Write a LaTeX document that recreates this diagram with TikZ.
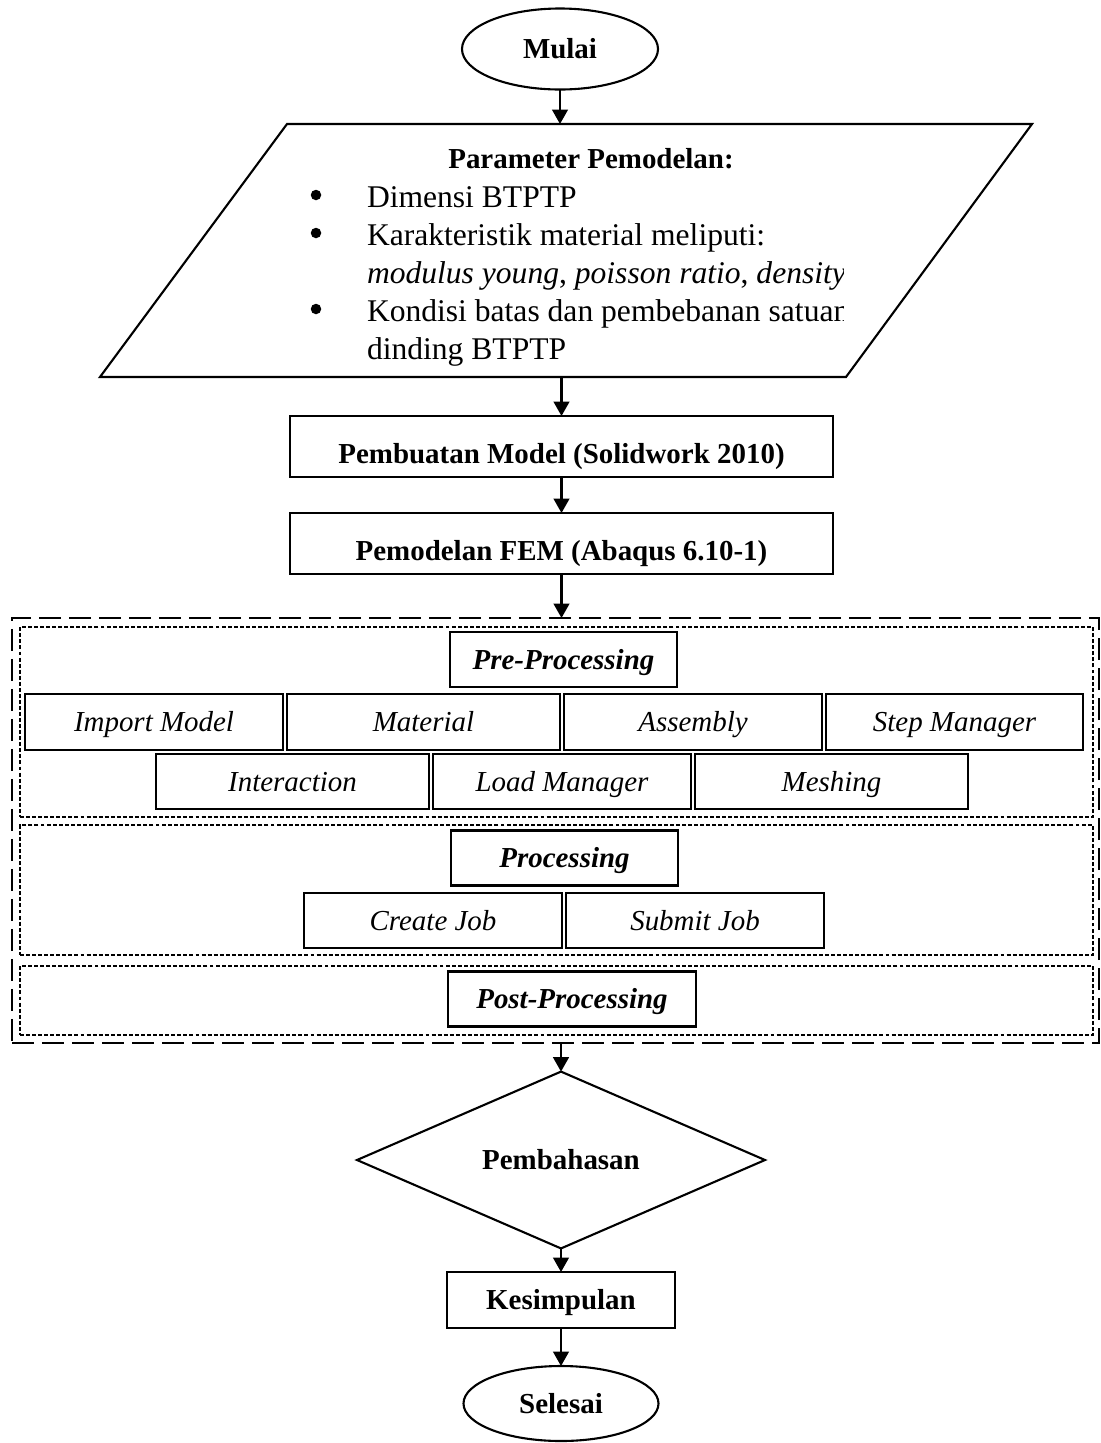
\documentclass[tikz,border=0pt]{standalone}
\usepackage{fontspec}
\setmainfont{Liberation Serif}
\usepackage{tikz}
\usetikzlibrary{arrows.meta,positioning,shapes.geometric}

\begin{document}
\begin{tikzpicture}[x=0.38pt, y=-0.38pt, node distance=1.52pt,
  every node/.style={font=\fontsize{11}{13}\selectfont, inner sep=0pt, outer sep=0pt, align=center,
    text height=7.3pt, text depth=0pt},
  wd/.style={minimum width=#1*0.38pt}, ht/.style={minimum height=#1*0.38pt},
  mainbox/.style={draw, line width=0.8pt, font=\fontsize{11}{13}\selectfont\bfseries},
  modelbox/.style={mainbox, wd=543, ht=61, text height=12.6pt},
  termnode/.style={mainbox, ellipse, wd=196, ht=81},
  taskbox/.style={draw, line width=0.8pt, font=\fontsize{11}{13}\selectfont\itshape},
  phasebox/.style={draw, line width=0.8pt, ht=55, font=\fontsize{11}{13}\selectfont\bfseries\itshape},
  stagebox/.style={draw, line width=0.6pt, dash pattern=on 1.5pt off 0.8pt, wd=1073},
  partext/.style={font=\fontsize{12}{14}\selectfont},
  pardot/.style={circle, fill, minimum size=10.5*0.38pt, text height=0pt},
  flow/.style={-{Triangle[length=5.5pt,width=6pt]}, line width=0.8pt}]
\useasboundingbox (0,0) rectangle (1101,1443);

% start and input
\node[termnode] (mulai) at (560,49) {Mulai};
\draw[line width=0.8pt] (287,124) coordinate (partop) -- (1032,124) -- (846,377)
  -- (100,377) coordinate (parbot) -- cycle;
\begin{scope}
\clip (290,130) rectangle (843,372);
\node[font=\fontsize{11}{13}\selectfont\bfseries, anchor=base] (partitle) at (591,168) {Parameter Pemodelan:};
\foreach \y/\txt [count=\i] in {207/{Dimensi BTPTP}, 245/{Karakteristik material meliputi:},
  283/{\textit{modulus young}, \textit{poisson ratio}, \textit{density}},
  321/{Kondisi batas dan pembebanan satuan}, 359/{dinding BTPTP}}
  \node[partext, anchor=base west] (parline\i) at (367,\y) {\txt};
\foreach \y [count=\i] in {195,233,309}
  \node[pardot] (bullet\i) at (316,\y) {};
\end{scope}

% modelling
\node[modelbox] (model) at (561.5,446.5) {Pembuatan Model (Solidwork 2010)};
\node[modelbox] (fem) at (561.5,543.5) {Pemodelan FEM (Abaqus 6.10-1)};

% abaqus stages
\node[draw, line width=1.1pt, dash pattern=on 8.4pt off 3pt, wd=1087, ht=425] (abaqus) at (555.5,830.5) {};
\node[stagebox, ht=190] (pre) at (556.5,722) {};
\node[stagebox, ht=130] (proc) at (556.5,890) {};
\node[stagebox, ht=69] (post) at (556.5,1000.5) {};

\node[phasebox, wd=227] (prehead) at (563.5,659.5) {Pre-Processing};
\node[taskbox, wd=258, ht=56, anchor=west] (import) at (25,722) {Import Model};
\node[taskbox, wd=273, ht=56, right=of import] (material) {Material};
\node[taskbox, wd=258, ht=56, right=of material] (assembly) {Assembly};
\node[taskbox, wd=257, ht=56, right=of assembly] (stepman) {Step Manager};
\node[taskbox, wd=273, ht=55, anchor=west] (interact) at (156,781.5) {Interaction};
\node[taskbox, wd=258, ht=55, right=of interact] (loadman) {Load Manager};
\node[taskbox, wd=273, ht=55, right=of loadman] (mesh) {Meshing};

\node[phasebox, wd=227] (prochead) at (564.5,858) {Processing};
\node[taskbox, wd=258, ht=55, anchor=west] (createjob) at (304,920.5) {Create Job};
\node[taskbox, wd=258, ht=55, right=of createjob] (submitjob) {Submit Job};

\node[phasebox, wd=248] (posthead) at (572,999) {Post-Processing};

% discussion and end
\node[mainbox, diamond, wd=408, ht=153] (bahas) at (561,1160) {Pembahasan};
\node[mainbox, wd=228, ht=56] (simpul) at (561,1300) {Kesimpulan};
\node[termnode, wd=195, ht=75] (selesai) at (561,1403.5) {Selesai};

\draw[flow] (mulai) -- (mulai |- partop);
\draw[flow] (parbot -| model) -- (model);
\draw[flow] (model) -- (fem);
\draw[flow] (fem) -- (fem |- abaqus.north);
\draw[flow] (abaqus.south -| bahas) -- (bahas);
\draw[flow] (bahas) -- (simpul);
\draw[flow] (simpul) -- (selesai);
\end{tikzpicture}
\end{document}
